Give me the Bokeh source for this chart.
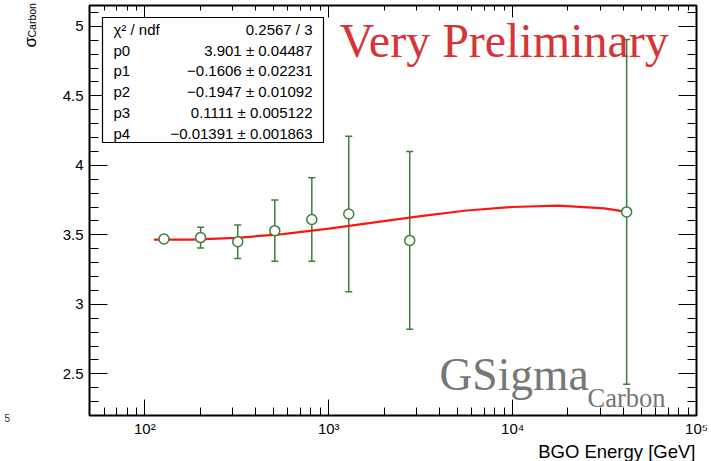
import math
from bokeh.plotting import figure
from bokeh.models import (Range1d, LogAxis, LinearAxis, FixedTicker, Label,
                          BoxAnnotation, ColumnDataSource)
from bokeh.embed import file_html
from bokeh.resources import INLINE

# ---------------- data ----------------
energy = [127, 201, 320, 509, 809, 1285, 2757, 41700]
sigma = [3.47, 3.48, 3.45, 3.53, 3.61, 3.65, 3.46, 3.665]
sigma_err = [0.015, 0.075, 0.12, 0.22, 0.30, 0.56, 0.64, 1.24]

fit_energy = [112, 178, 316, 562, 1000, 1778, 3162, 5623, 10000, 17783, 31623, 41700]
fit_sigma = [3.465, 3.465, 3.478, 3.505, 3.545, 3.590, 3.635, 3.675, 3.700, 3.710, 3.690, 3.665]

stat_names = ["χ² / ndf", "p0", "p1", "p2", "p3", "p4"]
stat_values = ["0.2567 / 3", "3.901 ± 0.04487", "−0.1606 ± 0.02231",
               "−0.1947 ± 0.01092", "0.1111 ± 0.005122", "−0.01391 ± 0.001863"]

x_major = [100, 1000, 10000, 100000]
x_major_labels = ["10²", "10³", "10⁴", "10⁵"]
x_minor = [60, 70, 80, 90,
           200, 300, 400, 500, 600, 700, 800, 900,
           2000, 3000, 4000, 5000, 6000, 7000, 8000, 9000,
           20000, 30000, 40000, 50000, 60000, 70000, 80000, 90000]
y_major = [2.5, 3, 3.5, 4, 4.5, 5]
y_major_labels = ["2.5", "3", "3.5", "4", "4.5", "5"]
y_minor = [round(2.3 + 0.1 * i, 1) for i in range(29)]

# ---------------- layout constants ----------------
W, H = 711, 461
FL, FR, FT, FB = 89, 696, 5, 415
GREEN = "#3a7f3a"

def sx(px):
    return px - FL

def sy(py):
    return FB - py

p = figure(width=W, height=H, x_axis_type="log",
           x_range=Range1d(50, 1e5), y_range=Range1d(2.2, 5.15),
           output_backend="svg", toolbar_location=None,
           min_border_left=FL, min_border_right=W - FR,
           min_border_top=FT, min_border_bottom=H - FB)
p.background_fill_color = "white"
p.border_fill_color = "white"
p.outline_line_color = "black"
p.outline_line_width = 2
p.xgrid.visible = False
p.ygrid.visible = False

def style_axis(ax, ticks, minor, labels, major_len, minor_len, show):
    ax.ticker = FixedTicker(ticks=ticks, minor_ticks=minor)
    ax.axis_line_color = None
    ax.major_tick_in = major_len
    ax.major_tick_out = 0
    ax.minor_tick_in = minor_len
    ax.minor_tick_out = 0
    ax.major_tick_line_color = "black"
    ax.minor_tick_line_color = "black"
    ax.major_tick_line_width = 1
    ax.minor_tick_line_width = 1
    if show:
        ax.major_label_overrides = {t: l for t, l in zip(ticks, labels)}
        ax.major_label_text_font = "Liberation Sans"
        ax.major_label_text_font_size = "15px"
        ax.major_label_text_color = "black"
    else:
        ax.major_label_overrides = {t: "" for t in ticks}
        ax.major_label_text_font_size = "0px"
        ax.major_label_standoff = 0

xb = p.xaxis[0]
style_axis(xb, x_major, x_minor, x_major_labels, 16, 8, True)
xb.major_label_standoff = 4

yl = p.yaxis[0]
style_axis(yl, y_major, y_minor, y_major_labels, 18, 9, True)
yl.major_label_standoff = 6

xt = LogAxis()
style_axis(xt, x_major, x_minor, x_major_labels, 12, 5, False)
p.add_layout(xt, "above")
yr = LinearAxis()
style_axis(yr, y_major, y_minor, y_major_labels, 18, 9, False)
p.add_layout(yr, "right")

# ---------------- marks ----------------
src = ColumnDataSource(dict(
    x=energy, y=sigma,
    lo=[s - e for s, e in zip(sigma, sigma_err)],
    hi=[s + e for s, e in zip(sigma, sigma_err)],
))
p.segment(x0="x", y0="lo", x1="x", y1="hi", source=src, line_color=GREEN, line_width=1.5)
p.scatter(x="x", y="hi", source=src, marker="dash", size=7, line_color=GREEN, line_width=1.5)
p.scatter(x="x", y="lo", source=src, marker="dash", size=7, line_color=GREEN, line_width=1.5)
p.line(fit_energy, fit_sigma, line_color="#ff1414", line_width=2.2)
p.scatter(x="x", y="y", source=src, marker="circle", size=10, fill_color="white",
          line_color=GREEN, line_width=1.5)

# ---------------- text helpers ----------------
def text_label(px, py_base, txt, size, font="Liberation Sans", color="black", align="left"):
    # anchor compensates the renderer's baseline placement (~0.28 em lower)
    return Label(x=sx(px), y=sy(py_base - 0.28 * size), x_units="screen", y_units="screen",
                 text=txt, text_font=font, text_font_size=f"{size}px",
                 text_color=color, text_baseline="alphabetic", text_align=align)

# ---------------- stats box ----------------
p.add_layout(BoxAnnotation(left=sx(102), right=sx(323), top=sy(17), bottom=sy(142),
                           left_units="screen", right_units="screen",
                           top_units="screen", bottom_units="screen",
                           fill_color="white", fill_alpha=1.0,
                           line_color="black", line_width=1.2, line_alpha=1.0))
for i, (n, v) in enumerate(zip(stat_names, stat_values)):
    base = 33 + i * 20.8
    p.add_layout(text_label(113, base, n, 15))
    p.add_layout(text_label(312, base, v, 15, align="right"))

# ---------------- other texts inside the frame ----------------
p.add_layout(text_label(339, 53, "Very Preliminary", 48, font="Liberation Serif", color="#d63535"))
p.add_layout(text_label(439, 387, "GSigma", 45.5, font="Liberation Serif", color="#777777"))
p.add_layout(text_label(587, 405, "Carbon", 26.5, font="Liberation Serif", color="#777777"))

# ---------------- texts outside the frame (side panels) ----------------
# x title: below panel, x measured from the frame's left edge
p.add_layout(Label(x=695 - FL, y=8.6, x_units="screen", y_units="screen",
                   text="BGO Energy [GeV]", text_font="Liberation Sans",
                   text_font_size="18.5px", text_color="black",
                   text_baseline="alphabetic", text_align="right"), "below")
# left panels: y measured from the frame's bottom edge
p.add_layout(Label(x=-49, y=-2.5, x_units="screen", y_units="screen", text="5",
                   text_font="Liberation Sans", text_font_size="10px",
                   text_color="#333333", text_baseline="alphabetic"), "left")
p.add_layout(Label(x=-3.8, y=FB - 47, x_units="screen", y_units="screen", text="σ",
                   angle=math.pi / 2, text_font="Liberation Sans", text_font_size="17px",
                   text_color="black", text_baseline="alphabetic"), "left")
p.add_layout(Label(x=9.6, y=FB - 37, x_units="screen", y_units="screen", text="Carbon",
                   angle=math.pi / 2, text_font="Liberation Sans", text_font_size="10.5px",
                   text_color="black", text_baseline="alphabetic"), "left")

open("out.html", "w").write(file_html(p, INLINE))
